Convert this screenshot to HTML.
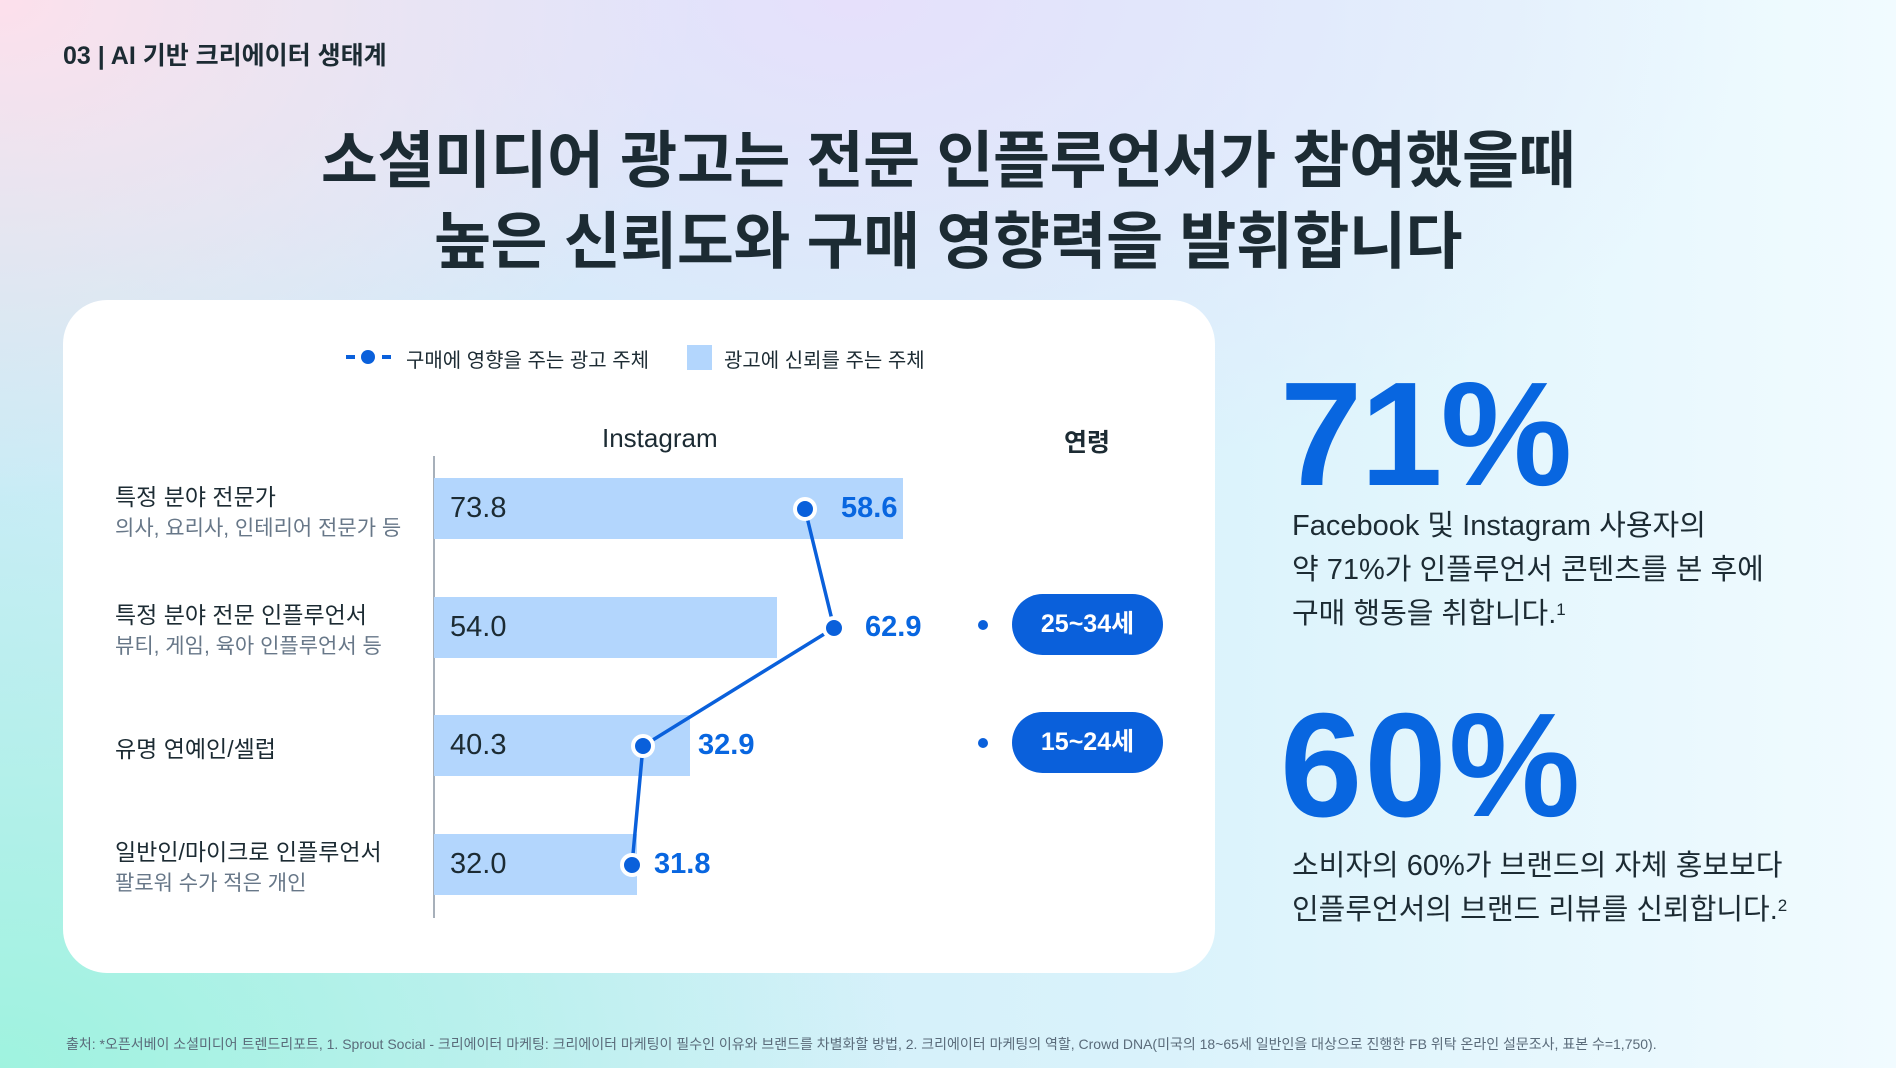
<!DOCTYPE html>
<html><head><meta charset="utf-8"><style>
*{margin:0;padding:0;box-sizing:border-box}
body{width:1896px;height:1068px;overflow:hidden;position:relative;font-family:"Liberation Sans","Noto Sans CJK KR",sans-serif;color:#1c2b33;
background:
radial-gradient(ellipse 700px 500px at 0% 0%, #fde0ec 0%, rgba(253,224,236,0) 100%),
radial-gradient(ellipse 900px 600px at 0% 100%, #9ff3df 0%, rgba(159,243,223,0) 100%),
radial-gradient(ellipse 900px 500px at 45% 0%, #e6e0fb 0%, rgba(230,224,251,0) 100%),
linear-gradient(90deg,#c9ecf6 0%,#d9f2fb 60%,#f1fbff 100%);}
.abs{position:absolute;white-space:nowrap}
.card{position:absolute;left:63px;top:300px;width:1152px;height:673px;background:#fff;border-radius:44px}
.t{font-weight:700;font-size:62px;left:0;width:1896px;text-align:center;letter-spacing:-0.5px}
.bar{position:absolute;left:434px;height:61px;background:#b3d6fd}
.bv{font-size:29px;font-weight:500;color:#1c2b33}
.pv{font-size:29px;font-weight:700;color:#0866e0}
.lab{font-size:23px;color:#1c2b33}
.sub{font-size:21px;color:#677788}
.pill{position:absolute;left:1012px;width:151px;height:61px;border-radius:31px;background:#0a60db;color:#fff;font-weight:700;font-size:25px;text-align:center;line-height:61px}
.big{font-size:148px;font-weight:700;color:#0866e0;letter-spacing:-2px}
.rt{font-size:29px;color:#1c2b33;line-height:44px}
sup{font-size:17px;line-height:0;vertical-align:8px}
</style></head><body>
<div class="abs" style="left:63px;top:36px;font-size:25px;font-weight:700">03 | AI 기반 크리에이터 생태계</div>
<div class="abs t" style="top:110px">소셜미디어 광고는 전문 인플루언서가 참여했을때</div>
<div class="abs t" style="top:191px">높은 신뢰도와 구매 영향력을 발휘합니다</div>
<div class="card"></div>
<svg class="abs" style="left:0;top:0" width="1896" height="1068">
<line x1="346" y1="357" x2="391" y2="357" stroke="#0a60db" stroke-width="4" stroke-dasharray="9 27"/>
<line x1="382" y1="357" x2="391" y2="357" stroke="#0a60db" stroke-width="4"/>
<circle cx="368" cy="357" r="10" fill="#fff"/><circle cx="368" cy="357" r="7" fill="#0a60db"/>
<rect x="687" y="345" width="25" height="25" fill="#b3d6fd"/>
<line x1="434" y1="456" x2="434" y2="918" stroke="#8a96a3" stroke-width="1.5"/>
</svg>
<div class="abs" style="left:406px;top:344px;font-size:20px">구매에 영향을 주는 광고 주체</div>
<div class="abs" style="left:724px;top:344px;font-size:20px">광고에 신뢰를 주는 주체</div>
<div class="abs" style="left:602px;top:423px;font-size:26px;font-weight:500">Instagram</div>
<div class="abs" style="left:1064px;top:423px;font-size:25px;font-weight:700">연령</div>
<div class="bar" style="top:478px;width:469px"></div>
<div class="bar" style="top:597px;width:343px"></div>
<div class="bar" style="top:715px;width:256px"></div>
<div class="bar" style="top:834px;width:203px"></div>
<svg class="abs" style="left:0;top:0" width="1896" height="1068">
<polyline points="805,509 834,628 643,746 632,865" fill="none" stroke="#0a60db" stroke-width="3.5"/>
<g fill="#0a60db" stroke="#fff" stroke-width="4">
<circle cx="805" cy="509" r="10"/><circle cx="834" cy="628" r="10"/><circle cx="643" cy="746" r="10"/><circle cx="632" cy="865" r="10"/></g>
<circle cx="983" cy="625" r="5" fill="#0a60db"/><circle cx="983" cy="743" r="5" fill="#0a60db"/>
</svg>
<div class="abs bv" style="left:450px;top:492px">73.8</div>
<div class="abs bv" style="left:450px;top:611px">54.0</div>
<div class="abs bv" style="left:450px;top:729px">40.3</div>
<div class="abs bv" style="left:450px;top:848px">32.0</div>
<div class="abs pv" style="left:841px;top:492px">58.6</div>
<div class="abs pv" style="left:865px;top:611px">62.9</div>
<div class="abs pv" style="left:698px;top:729px">32.9</div>
<div class="abs pv" style="left:654px;top:848px">31.8</div>
<div class="abs lab" style="left:115px;top:478px">특정 분야 전문가</div>
<div class="abs sub" style="left:115px;top:512px">의사, 요리사, 인테리어 전문가 등</div>
<div class="abs lab" style="left:115px;top:596px">특정 분야 전문 인플루언서</div>
<div class="abs sub" style="left:115px;top:630px">뷰티, 게임, 육아 인플루언서 등</div>
<div class="abs lab" style="left:115px;top:730px">유명 연예인/셀럽</div>
<div class="abs lab" style="left:115px;top:833px">일반인/마이크로 인플루언서</div>
<div class="abs sub" style="left:115px;top:867px">팔로워 수가 적은 개인</div>
<div class="pill" style="top:594px">25~34세</div>
<div class="pill" style="top:712px">15~24세</div>
<div class="abs big" style="left:1280px;top:350px">71%</div>
<div class="abs rt" style="left:1292px;top:504px">Facebook 및 Instagram 사용자의<br>약 71%가 인플루언서 콘텐츠를 본 후에<br>구매 행동을 취합니다.<sup>1</sup></div>
<div class="abs big" style="left:1280px;top:681px;letter-spacing:2px">60%</div>
<div class="abs rt" style="left:1292px;top:844px">소비자의 60%가 브랜드의 자체 홍보보다<br>인플루언서의 브랜드 리뷰를 신뢰합니다.<sup>2</sup></div>
<div class="abs" style="left:66px;top:1034px;font-size:14px;color:#5a6b7a">출처: *오픈서베이 소셜미디어 트렌드리포트, 1. Sprout Social - 크리에이터 마케팅: 크리에이터 마케팅이 필수인 이유와 브랜드를 차별화할 방법, 2. 크리에이터 마케팅의 역할, Crowd DNA(미국의 18~65세 일반인을 대상으로 진행한 FB 위탁 온라인 설문조사, 표본 수=1,750).</div>
</body></html>
